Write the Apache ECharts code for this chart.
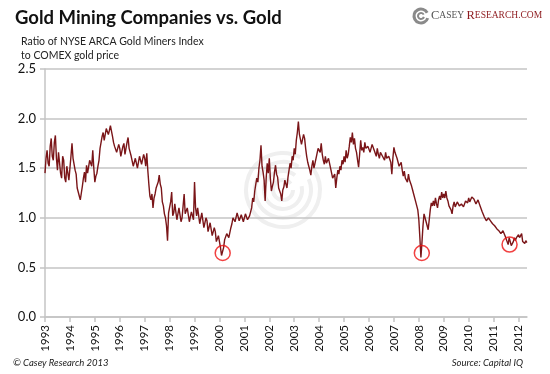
<!DOCTYPE html>
<html><head><meta charset="utf-8">
<script src="https://cdn.jsdelivr.net/npm/echarts@6/dist/echarts.min.js"></script>
<style>html,body{margin:0;padding:0;background:#fff}#c{width:550px;height:374px}</style>
</head><body><div id="c"></div>
<script>
// Semi-monthly ratio values (24 per year, Jan 1993 onward)
const startYear = 1993;
const ratio1993 = [1.45, 1.60, 1.68, 1.55, 1.52, 1.72, 1.80, 1.62, 1.58, 1.76, 1.83, 1.60, 1.48, 1.66, 1.65, 1.45, 1.40, 1.62, 1.58, 1.40, 1.36, 1.52, 1.50, 1.38];
const ratio1994 = [1.40, 1.62, 1.75, 1.60, 1.58, 1.48, 1.44, 1.30, 1.28, 1.22, 1.18, 1.25, 1.32, 1.40, 1.46, 1.36, 1.53, 1.45, 1.47, 1.58, 1.60, 1.52, 1.68, 1.50];
const ratio1995 = [1.36, 1.42, 1.45, 1.52, 1.58, 1.70, 1.72, 1.82, 1.86, 1.78, 1.80, 1.90, 1.91, 1.84, 1.88, 1.93, 1.95, 1.82, 1.76, 1.72, 1.72, 1.66, 1.68, 1.74];
const ratio1996 = [1.70, 1.62, 1.64, 1.72, 1.75, 1.64, 1.66, 1.76, 1.81, 1.70, 1.72, 1.62, 1.60, 1.52, 1.50, 1.60, 1.58, 1.50, 1.52, 1.62, 1.62, 1.54, 1.55, 1.64];
const ratio1997 = [1.60, 1.52, 1.65, 1.48, 1.34, 1.22, 1.18, 1.24, 1.10, 1.20, 1.24, 1.30, 1.28, 1.36, 1.43, 1.34, 1.30, 1.16, 1.12, 1.04, 1.00, 0.92, 0.77, 1.05];
const ratio1998 = [1.07, 1.16, 1.26, 1.02, 1.05, 1.14, 1.12, 0.98, 0.98, 1.10, 1.08, 0.96, 1.00, 1.12, 1.24, 1.04, 1.02, 1.10, 1.08, 0.96, 0.97, 1.06, 1.05, 0.98];
const ratio1999 = [1.36, 1.10, 1.02, 1.10, 1.08, 0.94, 0.92, 1.05, 1.04, 0.90, 0.90, 1.00, 0.97, 0.86, 0.84, 0.95, 0.93, 0.82, 0.80, 0.90, 0.86, 0.76, 0.74, 0.82];
const ratio2000 = [0.80, 0.70, 0.62, 0.66, 0.70, 0.78, 0.76, 0.84, 0.86, 0.80, 0.82, 0.90, 0.94, 1.00, 1.02, 0.96, 0.98, 1.05, 1.04, 0.97, 0.97, 1.03, 1.02, 0.96];
const ratio2001 = [0.98, 1.04, 1.03, 0.98, 0.97, 1.02, 1.02, 1.10, 1.20, 1.16, 1.27, 1.34, 1.40, 1.36, 1.50, 1.58, 1.73, 1.52, 1.46, 1.38, 1.17, 1.40, 1.55, 1.45];
const ratio2002 = [1.60, 1.40, 1.27, 1.32, 1.36, 1.46, 1.53, 1.44, 1.41, 1.30, 1.32, 1.24, 1.17, 1.28, 1.31, 1.38, 1.36, 1.30, 1.41, 1.48, 1.55, 1.50, 1.62, 1.58];
const ratio2003 = [1.70, 1.64, 1.78, 1.86, 1.97, 1.84, 1.82, 1.74, 1.75, 1.84, 1.80, 1.70, 1.62, 1.56, 1.52, 1.48, 1.43, 1.52, 1.58, 1.50, 1.50, 1.60, 1.62, 1.70];
const ratio2004 = [1.72, 1.66, 1.75, 1.64, 1.58, 1.54, 1.62, 1.55, 1.54, 1.60, 1.58, 1.50, 1.45, 1.40, 1.39, 1.44, 1.30, 1.40, 1.48, 1.44, 1.52, 1.48, 1.58, 1.54];
const ratio2005 = [1.62, 1.56, 1.68, 1.60, 1.64, 1.72, 1.81, 1.76, 1.86, 1.74, 1.80, 1.70, 1.66, 1.58, 1.51, 1.64, 1.78, 1.68, 1.71, 1.66, 1.76, 1.70, 1.68, 1.72];
const ratio2006 = [1.72, 1.66, 1.68, 1.74, 1.75, 1.68, 1.66, 1.62, 1.70, 1.64, 1.60, 1.66, 1.68, 1.62, 1.62, 1.58, 1.66, 1.60, 1.58, 1.62, 1.64, 1.56, 1.44, 1.60];
const ratio2007 = [1.71, 1.66, 1.65, 1.60, 1.58, 1.52, 1.52, 1.56, 1.48, 1.42, 1.47, 1.40, 1.42, 1.36, 1.44, 1.38, 1.37, 1.32, 1.28, 1.24, 1.22, 1.16, 1.15, 1.08];
const ratio2008 = [0.98, 0.80, 0.60, 0.75, 0.92, 1.04, 1.06, 0.96, 0.95, 0.88, 0.90, 1.08, 1.15, 1.12, 1.17, 1.12, 1.20, 1.14, 1.10, 1.18, 1.22, 1.18, 1.26, 1.20];
const ratio2009 = [1.24, 1.20, 1.27, 1.20, 1.17, 1.12, 1.14, 1.08, 1.04, 1.12, 1.16, 1.11, 1.12, 1.16, 1.17, 1.12, 1.10, 1.14, 1.15, 1.11, 1.12, 1.17, 1.18, 1.15];
const ratio2010 = [1.20, 1.16, 1.17, 1.21, 1.23, 1.19, 1.18, 1.14, 1.14, 1.18, 1.17, 1.12, 1.10, 1.06, 1.04, 1.01, 1.00, 0.97, 0.98, 1.00, 1.01, 0.97, 0.96, 0.94];
const ratio2011 = [0.96, 0.92, 0.92, 0.89, 0.90, 0.87, 0.88, 0.84, 0.84, 0.87, 0.86, 0.82, 0.80, 0.76, 0.73, 0.80, 0.79, 0.72, 0.70, 0.76, 0.80, 0.77, 0.80, 0.82];
const ratio2012 = [0.83, 0.80, 0.82, 0.84, 0.76, 0.74, 0.74, 0.77, 0.75];

// highlighted lows (decimal year, ratio)
const circleYears = [2000.13, 2008.12, 2011.64];
const circleValues = [0.645, 0.645, 0.73];

const yearLabels = ['1993','1994','1995','1996','1997','1998','1999','2000','2001','2002',
                    '2003','2004','2005','2006','2007','2008','2009','2010','2011','2012'];

const allRatio = [].concat(ratio1993, ratio1994, ratio1995, ratio1996, ratio1997, ratio1998,
  ratio1999, ratio2000, ratio2001, ratio2002, ratio2003, ratio2004, ratio2005, ratio2006,
  ratio2007, ratio2008, ratio2009, ratio2010, ratio2011, ratio2012);
const lineData = allRatio.map((v, i) => [startYear + i / 24, v]);
const circleData = circleYears.map((y, i) => [y, circleValues[i]]);

const chart = echarts.init(document.getElementById('c'), null, {renderer: 'canvas'});
const gridColor = '#c4c4c4';
const F = 'Lato, "Open Sans", sans-serif';

chart.setOption({
  animation: false,
  grid: {left: 45, right: 23, top: 69, bottom: 57, containLabel: false},
  xAxis: {
    type: 'value', min: 1993, max: 2012.34, interval: 1,
    axisLine: {show: true, lineStyle: {color: gridColor, width: 1.5}},
    axisTick: {show: true, length: 5, lineStyle: {color: gridColor, width: 1.5}},
    axisLabel: {show: true, rotate: 90, margin: 8, color: '#111', fontFamily: F, fontSize: 11.5,
      showMaxLabel: false,
      formatter: v => {
        const s = String(Math.round(v));
        return Math.abs(v - Math.round(v)) < 1e-6 && yearLabels.indexOf(s) >= 0 ? s : '';
      }},
    splitLine: {show: false}
  },
  yAxis: {
    type: 'value', min: 0, max: 2.5, interval: 0.5,
    axisLine: {show: true, lineStyle: {color: gridColor, width: 1.5}},
    axisTick: {show: true, length: 5, lineStyle: {color: gridColor, width: 1.5}},
    axisLabel: {margin: 9, color: '#111', fontFamily: F, fontSize: 13, formatter: v => v.toFixed(1)},
    splitLine: {show: true, lineStyle: {color: gridColor, width: 1.5}}
  },
  series: [
    {type: 'line', data: lineData, showSymbol: false, symbol: 'none', z: 3,
     lineStyle: {color: '#7a1518', width: 1.4}},
    {type: 'scatter', data: circleData, symbol: 'circle', symbolSize: 15, z: 4,
     itemStyle: {color: 'rgba(0,0,0,0)', borderColor: '#ee1111', borderWidth: 1.5}}
  ],
  graphic: [
    // watermark rings
    {type: 'arc', z: 0, silent: true, shape: {cx: 283, cy: 190, r: 37, startAngle: -0.6, endAngle: 5.2},
     style: {stroke: '#efefef', lineWidth: 4, fill: null}},
    {type: 'arc', z: 0, silent: true, shape: {cx: 283, cy: 190, r: 28, startAngle: -0.4, endAngle: 5.3},
     style: {stroke: '#efefef', lineWidth: 4, fill: null}},
    {type: 'arc', z: 0, silent: true, shape: {cx: 283, cy: 190, r: 19, startAngle: -0.2, endAngle: 5.4},
     style: {stroke: '#efefef', lineWidth: 4, fill: null}},
    {type: 'arc', z: 0, silent: true, shape: {cx: 283, cy: 190, r: 10, startAngle: 0, endAngle: 5.6},
     style: {stroke: '#efefef', lineWidth: 4, fill: null}},
    // title & subtitle
    {type: 'text', left: 15, top: 9, style: {text: 'Gold Mining Companies vs. Gold',
      font: 'bold 18.5px ' + F, fill: '#111'}},
    {type: 'text', left: 21, top: 35, style: {text: 'Ratio of NYSE ARCA Gold Miners Index\nto COMEX gold price',
      font: '10.5px ' + F, fill: '#222', lineHeight: 14}},
    // logo
    {type: 'arc', shape: {cx: 421, cy: 16, r: 7, startAngle: 0.3, endAngle: 5.8},
     style: {stroke: '#8a8a8a', lineWidth: 3, fill: null}},
    {type: 'arc', shape: {cx: 421, cy: 16, r: 3, startAngle: 0.3, endAngle: 5.8},
     style: {stroke: '#8a8a8a', lineWidth: 2, fill: null}},
    {type: 'text', left: 431, top: 9, style: {
      text: '{a|C}{b|ASEY }{c|R}{d|ESEARCH.COM}',
      rich: {
        a: {fontFamily: 'Liberation Serif', fontSize: 12.5, fill: '#555', color: '#555'},
        b: {fontFamily: 'Liberation Serif', fontSize: 9.5, fill: '#555', color: '#555'},
        c: {fontFamily: 'Liberation Serif', fontSize: 12.5, fill: '#8e1b1f', color: '#8e1b1f'},
        d: {fontFamily: 'Liberation Serif', fontSize: 9.5, fill: '#8e1b1f', color: '#8e1b1f'}
      }}},
    // footers
    {type: 'text', left: 13, top: 358, style: {text: '\u00A9 Casey Research 2013',
      font: 'italic 9.5px ' + F, fill: '#222'}},
    {type: 'text', right: 27, top: 358, style: {text: 'Source: Capital IQ',
      font: 'italic 9.5px ' + F, fill: '#222'}}
  ]
});
</script></body></html>
